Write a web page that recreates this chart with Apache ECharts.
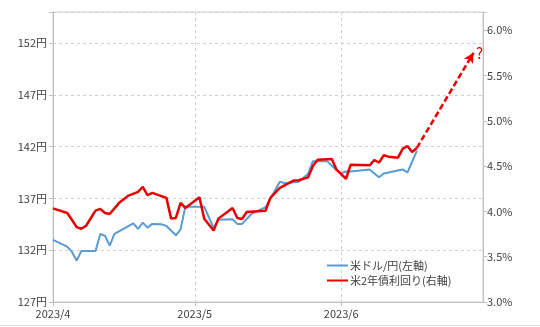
<!DOCTYPE html>
<html>
<head>
<meta charset="utf-8">
<script src="https://cdn.jsdelivr.net/npm/echarts@6/dist/echarts.min.js"></script>
<style>html,body{margin:0;padding:0;background:#fff;}#c{width:540px;height:327px;}</style>
</head>
<body>
<div id="c"></div>
<script>
// X range: daily categories
const startDate = [2023, 4, 1];
const dayCount = 92; // 2023/4/1 .. 2023/7/1
const monthTickLabels = ['2023/4', '2023/5', '2023/6'];

// USD/JPY (left axis, yen)
const usdDates = ['2023/4/1','2023/4/4','2023/4/5','2023/4/6','2023/4/7','2023/4/10','2023/4/11','2023/4/12','2023/4/13','2023/4/14',
  '2023/4/18','2023/4/19','2023/4/20','2023/4/21','2023/4/22','2023/4/24','2023/4/25','2023/4/27','2023/4/28','2023/4/29',
  '2023/5/3','2023/5/5','2023/5/6','2023/5/9','2023/5/10','2023/5/11','2023/5/13','2023/5/16','2023/5/19','2023/5/20',
  '2023/5/23','2023/5/25','2023/5/26','2023/5/29','2023/5/31','2023/6/1','2023/6/2','2023/6/3','2023/6/7','2023/6/9',
  '2023/6/10','2023/6/14','2023/6/15','2023/6/17'];
const usdValues = [133.0,132.34,131.86,131.0,131.93,131.93,133.57,133.4,132.44,133.57,
  134.6,134.05,134.66,134.18,134.54,134.5,134.34,133.44,134.02,136.2,
  136.2,134.12,134.95,134.99,134.54,134.54,135.5,136.15,138.62,138.47,
  138.62,139.37,140.6,140.6,139.75,139.43,139.6,139.6,139.8,139.05,
  139.4,139.8,139.5,141.6];

// US 2-year yield (right axis, %)
const ust2Dates = ['2023/4/1','2023/4/4','2023/4/5','2023/4/6','2023/4/7','2023/4/8','2023/4/10','2023/4/11','2023/4/12','2023/4/13',
  '2023/4/15','2023/4/17','2023/4/19','2023/4/20','2023/4/21','2023/4/22','2023/4/25','2023/4/26','2023/4/27','2023/4/28',
  '2023/4/29','2023/5/2','2023/5/3','2023/5/5','2023/5/6','2023/5/9','2023/5/10','2023/5/11','2023/5/12','2023/5/16',
  '2023/5/17','2023/5/19','2023/5/22','2023/5/23','2023/5/25','2023/5/26','2023/5/27','2023/5/30','2023/5/31','2023/6/2',
  '2023/6/3','2023/6/7','2023/6/8','2023/6/9','2023/6/10','2023/6/11','2023/6/13','2023/6/14','2023/6/15','2023/6/16','2023/6/17'];
const ust2Values = [4.033,3.982,3.908,3.827,3.808,3.841,4.008,4.027,3.982,3.971,
  4.094,4.174,4.216,4.271,4.178,4.204,4.149,3.92,3.927,4.093,
  4.038,4.156,3.919,3.789,3.92,4.038,3.927,3.916,3.993,4.008,
  4.149,4.26,4.341,4.343,4.375,4.50,4.57,4.578,4.46,4.36,
  4.515,4.508,4.567,4.538,4.619,4.604,4.593,4.69,4.722,4.656,4.70];

// Projection arrow
const arrowFrom = ['2023/6/17', 4.70];
const arrowTo = ['2023/6/29', 5.75];

const leftTicks = { min: 127, max: 155, interval: 5 };
const rightTicks = { min: 3.0, max: 6.2, interval: 0.5 };

const seriesNames = ['米ドル/円(左軸)', '米2年債利回り(右軸)'];

// build categories
const categories = [];
for (let i = 0; i < dayCount; i++) {
  const d = new Date(startDate[0], startDate[1] - 1, startDate[2] + i);
  categories.push(d.getFullYear() + '/' + (d.getMonth() + 1) + '/' + d.getDate());
}
const isMonthStart = (idx) => categories[idx] && categories[idx].endsWith('/1') && idx < dayCount - 1;

const FONT = '"Noto Sans CJK JP", "Noto Sans", sans-serif';
const chart = echarts.init(document.getElementById('c'), null, { renderer: 'canvas' });
chart.setOption({
  animation: false,
  backgroundColor: '#fff',
  textStyle: { fontFamily: FONT },
  grid: { left: 53, right: 57, top: 12, bottom: 25, show: true, borderColor: '#d0d0d0', borderWidth: 1 },
  legend: {
    orient: 'vertical', left: 322, top: 255, itemGap: 4,
    itemWidth: 21, itemHeight: 2, icon: 'rect',
    textStyle: { fontFamily: FONT, fontSize: 11, color: '#404040', padding: [0, 0, 0, -3] },
    data: seriesNames
  },
  xAxis: {
    type: 'category', data: categories, boundaryGap: false,
    axisLine: { lineStyle: { color: '#bfbfbf' } },
    axisTick: { show: true, length: 4, interval: (i) => isMonthStart(i), lineStyle: { color: '#bfbfbf' } },
    axisLabel: {
      interval: (i) => isMonthStart(i), margin: 6,
      fontFamily: FONT, fontSize: 11, color: '#404040',
      formatter: (v) => { const p = v.split('/'); return p[0] + '/' + p[1]; }
    },
    splitLine: { show: true, interval: (i) => isMonthStart(i) && i > 0, lineStyle: { color: '#d0d0d0', type: [3, 3] } }
  },
  yAxis: [
    {
      type: 'value', position: 'left', min: leftTicks.min, max: leftTicks.max, interval: leftTicks.interval,
      axisLine: { show: true, lineStyle: { color: '#bfbfbf' } },
      axisTick: { show: true, length: 4, lineStyle: { color: '#bfbfbf' } },
      axisLabel: { margin: 6, fontFamily: FONT, fontSize: 11, color: '#404040',
        formatter: (v) => v === leftTicks.max ? '' : v + '円' },
      splitLine: { show: true, lineStyle: { color: '#d0d0d0', type: [3, 3] } }
    },
    {
      type: 'value', position: 'right', min: rightTicks.min, max: rightTicks.max, interval: rightTicks.interval,
      axisLine: { show: true, lineStyle: { color: '#bfbfbf' } },
      axisTick: { show: true, length: 4, lineStyle: { color: '#bfbfbf' } },
      axisLabel: { margin: 4, fontFamily: FONT, fontSize: 11, color: '#404040',
        formatter: (v) => Math.abs(v - rightTicks.max) < 1e-9 ? '' : v.toFixed(1) + '%' },
      splitLine: { show: false }
    }
  ],
  series: [
    {
      name: seriesNames[0], type: 'line', yAxisIndex: 0, showSymbol: false, connectNulls: true,
      data: usdDates.map((d, i) => [d, usdValues[i]]),
      lineStyle: { color: '#5b9bd5', width: 2 }, itemStyle: { color: '#5b9bd5' }, z: 2
    },
    {
      name: seriesNames[1], type: 'line', yAxisIndex: 1, showSymbol: false, connectNulls: true,
      data: ust2Dates.map((d, i) => [d, ust2Values[i]]),
      lineStyle: { color: '#e60000', width: 2.5 }, itemStyle: { color: '#e60000' }, z: 3,
      markLine: {
        silent: true, symbol: ['none', 'arrow'], symbolSize: [8, 10],
        lineStyle: { color: '#e60000', width: 2.5, type: [6, 3] },
        label: { show: true, position: 'end', formatter: '?', color: '#e60000', fontSize: 15, fontFamily: FONT, distance: 0, offset: [6, 8] },
        data: [[{ coord: arrowFrom }, { coord: arrowTo }]]
      }
    }
  ],
  graphic: [
    { type: 'line', shape: { x1: 0, y1: 325.5, x2: 540, y2: 325.5 }, style: { stroke: '#d9d9d9', lineWidth: 1 } }
  ]
});
</script>
</body>
</html>
